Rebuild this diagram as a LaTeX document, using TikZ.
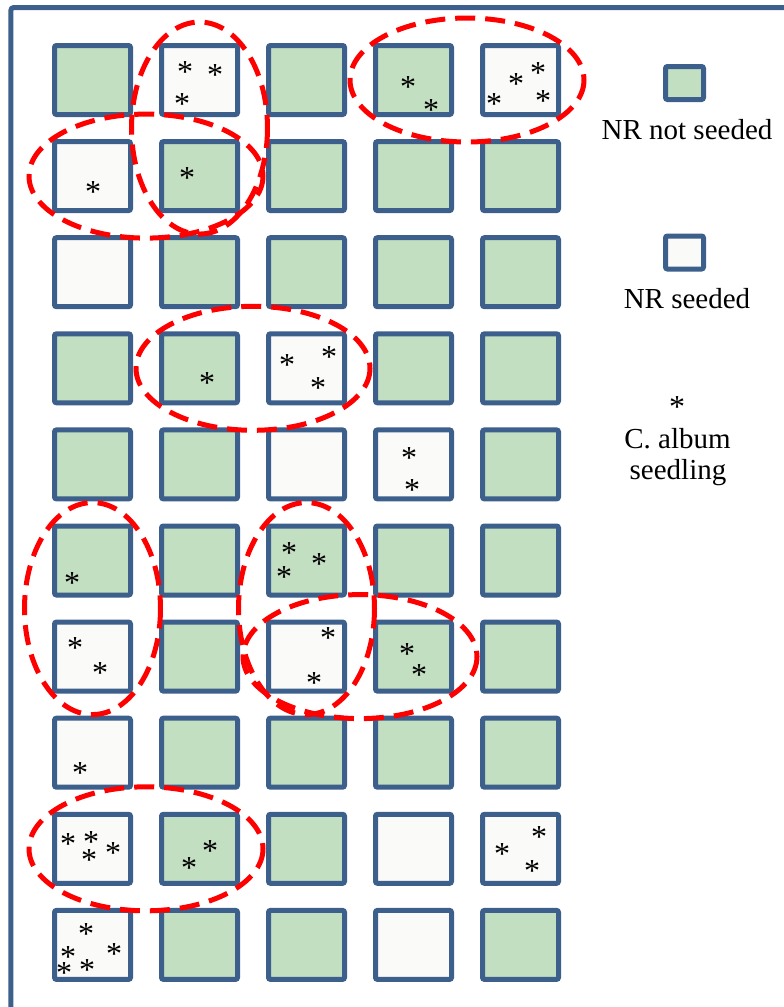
\documentclass[tikz,border=0pt]{standalone}
\usepackage{fontspec}
\setmainfont{Liberation Serif}
\newfontfamily\nrfont{Liberation Serif}
\usepackage{tikz}
\usetikzlibrary{calc}
\definecolor{nrblue}{RGB}{60,95,140}
\definecolor{nrgreen}{RGB}{194,223,194}
\definecolor{nrwhite}{RGB}{250,250,248}
\definecolor{clusterred}{RGB}{255,0,0}
% asterisk lowered so that its middle sits on the baseline
\newcommand{\seedstar}{\raisebox{-15pt}{*}}
\tikzset{
    nrplot/.style={
        draw=nrblue, line width=5pt,
        rounded corners=2pt,
        minimum width=76pt,
        minimum height=69pt,
        inner sep=0pt
    },
    nrplotu/.style = {nrplot, fill=nrgreen},
    nrplots/.style = {nrplot, fill=nrwhite},
    keybox/.style = {draw=nrblue, line width=5pt, rounded corners=2pt,
        minimum width=38pt, minimum height=33pt, inner sep=0pt},
    keytext/.style = {anchor=base, inner sep=0pt,
        font=\nrfont\fontsize{29}{31}\selectfont},
    seedmark/.style = {anchor=base, inner sep=0pt, text height=6pt, text depth=6pt,
        font=\nrfont\fontsize{32}{32}\selectfont},
    cluster/.style = {draw=clusterred, line width=5pt, dash pattern=on 20pt off 10pt}
}

\begin{document}
\begin{tikzpicture}[x=1pt, y=-1pt]

    \useasboundingbox (0,0) rectangle (784,1007);

    % Frame
    \draw[nrblue, line width=5pt, rounded corners=3pt] (10.8,1020) |- (800,7.5);

    % Plots (u = NR not seeded, s = NR seeded)
    \foreach \row/\codes in {1/{u,s,u,u,s}, 2/{s,u,u,u,u}, 3/{s,u,u,u,u},
                             4/{u,u,s,u,u}, 5/{u,u,s,s,u}, 6/{u,u,u,u,u},
                             7/{s,u,s,u,u}, 8/{s,u,u,u,u}, 9/{s,u,u,s,s},
                             10/{s,u,u,s,u}}{
        \foreach \kind [count=\col] in \codes {
            \node[nrplot\kind] (p\row-\col) at ({92.5+107*(\col-1)},{80+96.1*(\row-1)}) {};
        }
    }

    % Seedlings
    \foreach \x/\y [count=\i] in {185/67, 215/70, 182/99, 408/82, 431/105,
            538/68, 516/79, 494/99, 543/96, 93/187, 187/173,
            207/378, 287/360, 329/352, 318/383, 409/453, 412/485,
            72/578, 75/643, 100/668, 80/768, 289/548, 319/559, 284/572,
            328/633, 314/678, 407/649, 419/670,
            68/839, 91/837, 89/855, 113/848, 210/846, 189/863,
            86/929, 68/952, 114/949, 64/968, 87/965,
            539/832, 502/849, 532/866}
        \node[seedmark] (seed\i) at (\x,\y) {\seedstar};

    % Clusters
    \draw[cluster] ($(p1-2)!0.5!(p2-2)$) ellipse [x radius=68, y radius=106];
    \draw[cluster] ($(p2-1)!0.5!(p2-2)$) ellipse [x radius=117, y radius=62];
    \draw[cluster] ($(p1-4)!0.5!(p1-5)$) ellipse [x radius=117, y radius=62];
    \draw[cluster] ($(p4-2)!0.5!(p4-3)$) ellipse [x radius=117, y radius=62];
    \draw[cluster] ($(p6-1)!0.5!(p7-1)$) ellipse [x radius=68, y radius=106];
    \draw[cluster] ($(p6-3)!0.5!(p7-3)$) ellipse [x radius=68, y radius=106];
    \draw[cluster] ($(p7-3)!0.5!(p7-4)$) ellipse [x radius=117, y radius=62];
    \draw[cluster] ($(p9-1)!0.5!(p9-2)$) ellipse [x radius=117, y radius=62];

    % Legend
    \node[keybox, fill=nrgreen] (keyu) at (684.5,83) {};
    \node[keytext] (keyutext) at (687,139) {NR not seeded};
    \node[keybox, fill=nrwhite] (keys) at (684.5,252.5) {};
    \node[keytext] (keystext) at (687,308) {NR seeded};
    \node[seedmark] (keyseed) at (677,402) {\seedstar};
    \node[keytext] (keyseedtext) at (677.5,448) {C. album};
    \node[keytext] (keyseedtext2) at (678,479) {seedling};

\end{tikzpicture}
\end{document}
